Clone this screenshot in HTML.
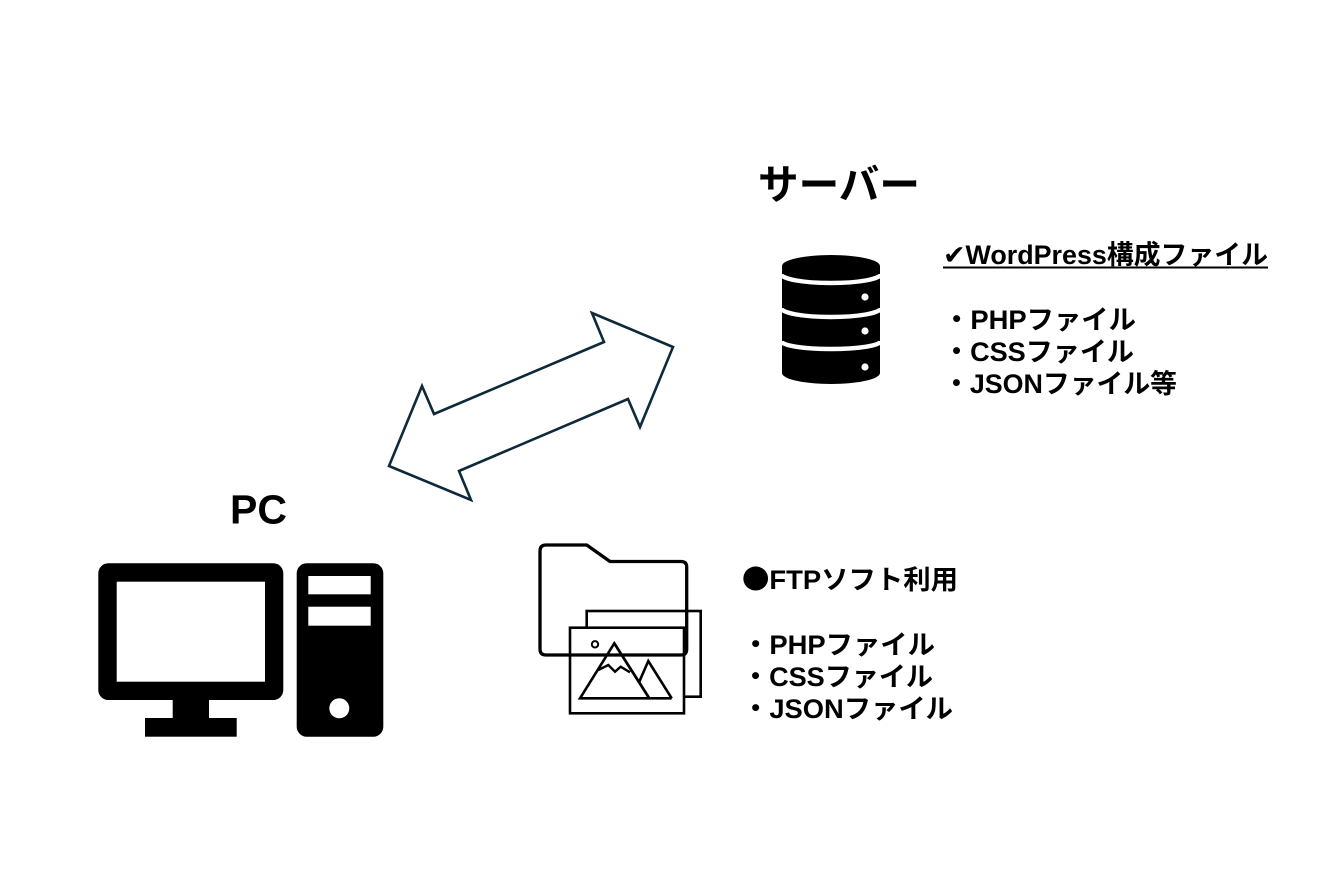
<!DOCTYPE html>
<html><head><meta charset="utf-8"><style>
html,body{margin:0;padding:0;background:#fff;}
svg{display:block;}
text{font-family:"Liberation Sans","Noto Sans CJK JP",sans-serif;font-weight:bold;fill:#000;}
.cjk{font-family:"Noto Sans CJK JP","Liberation Sans",sans-serif;}
.chk{font-family:"DejaVu Sans","Noto Sans CJK JP",sans-serif;}
</style></head><body>
<svg width="1344" height="896" viewBox="0 0 1344 896" xmlns="http://www.w3.org/2000/svg">
<rect width="1344" height="896" fill="#fff"/>

<!-- Server title -->
<text x="758" y="199" font-size="41" textLength="162" lengthAdjust="spacingAndGlyphs">サーバー</text>

<!-- Server icon -->
<path d="M782 266 A49 11 0 0 1 880 266 V373 A49 11 0 0 1 782 373 Z" fill="#000"/>
<path d="M781 274 A50 9 0 0 0 881 274" fill="none" stroke="#fff" stroke-width="4.4"/>
<path d="M781 308 A50 9 0 0 0 881 308" fill="none" stroke="#fff" stroke-width="4.4"/>
<path d="M781 341 A50 8 0 0 0 881 341" fill="none" stroke="#fff" stroke-width="4.4"/>
<circle cx="865" cy="297" r="3.6" fill="#fff"/>
<circle cx="865" cy="331" r="3.6" fill="#fff"/>
<circle cx="865" cy="367" r="3.6" fill="#fff"/>

<!-- Server text -->
<text x="943" y="264" font-size="26.67" textLength="325" lengthAdjust="spacingAndGlyphs"><tspan class="chk">✔</tspan>WordPress構成ファイル</text>
<line x1="943" y1="267.5" x2="1268" y2="267.5" stroke="#000" stroke-width="2"/>
<text x="943" y="329" font-size="26.67" textLength="193" lengthAdjust="spacingAndGlyphs">・PHPファイル</text>
<text x="943" y="361" font-size="26.67" textLength="191" lengthAdjust="spacingAndGlyphs">・CSSファイル</text>
<text x="943" y="393" font-size="26.67" textLength="234" lengthAdjust="spacingAndGlyphs">・JSONファイル等</text>

<!-- Double arrow -->
<polygon points="592,313 673,347 640,427 628,399 459,471 471,500 389,466 422,386 434,414 604,342" fill="#fff" stroke="#0e2a3a" stroke-width="2.6" stroke-linejoin="miter"/>

<!-- PC label -->
<text x="230" y="523.5" font-size="41" textLength="57" lengthAdjust="spacingAndGlyphs">PC</text>

<!-- Monitor -->
<rect x="98.3" y="563.3" width="185" height="136.7" rx="10" fill="#000"/>
<rect x="116.7" y="581.7" width="148.3" height="100" fill="#fff"/>
<rect x="172.7" y="699" width="36.3" height="20" fill="#000"/>
<rect x="145" y="718" width="91.7" height="18.7" fill="#000"/>
<!-- Tower -->
<rect x="296.7" y="563.3" width="86.6" height="173.4" rx="10" fill="#000"/>
<rect x="308.3" y="576" width="62.4" height="18.3" fill="#fff"/>
<rect x="308.3" y="606.7" width="62.4" height="19" fill="#fff"/>
<circle cx="339.3" cy="708.3" r="10" fill="#fff"/>

<!-- Folder / image icon -->
<rect x="586.7" y="611" width="114" height="85.7" fill="#fff" stroke="#000" stroke-width="2.6"/>
<rect x="570" y="627.7" width="114" height="85.6" fill="#fff" stroke="#000" stroke-width="2.6"/>
<path d="M540 551 Q540 545 546 545 L586.7 545 L610 561.5 L681 561.5 Q686.7 561.5 686.7 567 L686.7 649 Q686.7 655 681 655 L546 655 Q540 655 540 649 Z" fill="none" stroke="#000" stroke-width="3.3" stroke-linejoin="round"/>
<circle cx="595" cy="644.3" r="3.2" fill="none" stroke="#000" stroke-width="2"/>
<polyline points="639.3,681.7 648.3,661 671.7,698.3" fill="none" stroke="#000" stroke-width="2.6" stroke-linejoin="miter"/>
<polygon points="614.3,643.3 580,698.3 671.7,698.3 671.7,698.3 649.3,698.3" fill="none" stroke="#000" stroke-width="2.6"/>
<line x1="614.3" y1="643.3" x2="649.3" y2="698.3" stroke="#000" stroke-width="2.6"/>
<polyline points="598.3,670 608.3,665 615,671.7 620.7,666.7 630,672.3" fill="none" stroke="#000" stroke-width="2.4" stroke-linejoin="miter"/>

<!-- FTP text -->
<text x="742" y="589" font-size="26.67" textLength="216" lengthAdjust="spacingAndGlyphs"><tspan class="cjk">●</tspan>FTPソフト利用</text>
<text x="742" y="654" font-size="26.67" textLength="193" lengthAdjust="spacingAndGlyphs">・PHPファイル</text>
<text x="742" y="686" font-size="26.67" textLength="191" lengthAdjust="spacingAndGlyphs">・CSSファイル</text>
<text x="742" y="718" font-size="26.67" textLength="211" lengthAdjust="spacingAndGlyphs">・JSONファイル</text>
</svg>
</body></html>
